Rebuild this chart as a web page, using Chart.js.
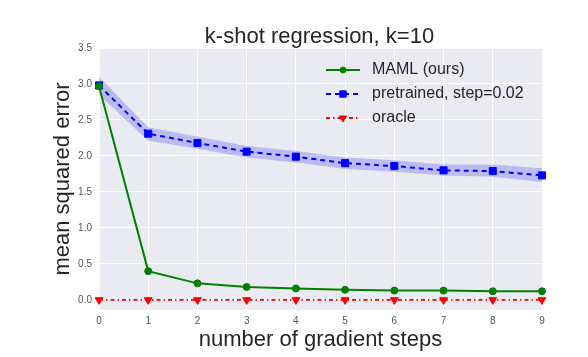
<!DOCTYPE html>
<html><head><meta charset="utf-8">
<script src="https://cdn.jsdelivr.net/npm/chart.js@4/dist/chart.umd.min.js"></script>
<style>html,body{margin:0;padding:0;background:#fff;} canvas{display:block}</style>
</head><body>
<canvas id="c" width="588" height="357"></canvas>
<script>
const steps = ['0','1','2','3','4','5','6','7','8','9'];
const mamlValues = [2.97, 0.40, 0.23, 0.18, 0.16, 0.14, 0.13, 0.13, 0.12, 0.12];
const pretrainedValues = [2.98, 2.31, 2.18, 2.06, 1.99, 1.90, 1.86, 1.80, 1.79, 1.73];
const pretrainedUpper = [3.10, 2.40, 2.27, 2.14, 2.07, 1.98, 1.94, 1.88, 1.88, 1.83];
const pretrainedLower = [2.85, 2.21, 2.10, 1.98, 1.91, 1.82, 1.78, 1.73, 1.71, 1.64];
const oracleValues = [0, 0, 0, 0, 0, 0, 0, 0, 0, 0];
const yTickValues = [0, 0.5, 1.0, 1.5, 2.0, 2.5, 3.0, 3.5];
const chartTitle = 'k-shot regression, k=10';
const xAxisTitle = 'number of gradient steps';
const yAxisTitle = 'mean squared error';
const legendLabels = ['MAML (ours)', 'pretrained, step=0.02', 'oracle'];

const FONT = '"Liberation Sans", Arial, sans-serif';
const TEXT = '#262626';

const styles = {
  maml: {color: '#008000', dash: [], point: 'circle', r: 3.5, lr: 3, rot: 0},
  pre: {color: '#0000FF', dash: [5, 4], point: 'rect', r: 5, lr: 4.5, rot: 0},
  oracle: {color: '#FF0000', dash: [4, 3, 1.5, 3], point: 'triangle', r: 4.5, lr: 4, rot: 180}
};

const bgPlugin = {
  id: 'bg',
  beforeDraw(chart) {
    const {ctx, chartArea: a} = chart;
    ctx.save();
    ctx.fillStyle = '#EAEAF2';
    ctx.fillRect(a.left, a.top, a.right - a.left, a.bottom - a.top);
    ctx.restore();
  }
};

const decoPlugin = {
  id: 'deco',
  afterDraw(chart) {
    const {ctx, chartArea: a} = chart;
    ctx.save();
    ctx.fillStyle = TEXT;
    ctx.font = '22px ' + FONT;
    ctx.textAlign = 'center';
    ctx.textBaseline = 'alphabetic';
    ctx.fillText(chartTitle, (a.left + a.right) / 2 - 1, 43);
    const list = [styles.maml, styles.pre, styles.oracle];
    const x0 = a.right - 216, x1 = a.right - 182, tx = a.right - 170;
    list.forEach((s, i) => {
      const y = a.top + 22 + i * 24;
      ctx.strokeStyle = s.color;
      ctx.lineWidth = i === 2 ? 1.8 : 2;
      ctx.setLineDash(s.dash);
      ctx.beginPath();
      ctx.moveTo(x0, y); ctx.lineTo(x1, y);
      ctx.stroke();
      ctx.setLineDash([]);
      ctx.fillStyle = s.color;
      ctx.strokeStyle = s.color;
      ctx.lineWidth = 1;
      Chart.helpers.drawPoint(ctx, {pointStyle: s.point, radius: s.lr, rotation: s.rot, borderWidth: 1}, (x0 + x1) / 2, y);
      ctx.fillStyle = TEXT;
      ctx.font = '16px ' + FONT;
      ctx.textAlign = 'left';
      ctx.textBaseline = 'middle';
      ctx.fillText(legendLabels[i], tx, y);
    });
    ctx.restore();
  }
};

function lineDs(label, data, s, order, width) {
  return {
    label, data, order,
    borderColor: s.color, backgroundColor: s.color,
    borderWidth: width, borderDash: s.dash,
    pointStyle: s.point, pointRadius: s.r, pointRotation: s.rot,
    pointBorderWidth: 1, pointBorderColor: s.color, pointBackgroundColor: s.color,
    fill: false, tension: 0
  };
}

new Chart(document.getElementById('c'), {
  type: 'line',
  data: {
    labels: steps,
    datasets: [
      {label: 'band upper', data: pretrainedUpper, fill: '+1', backgroundColor: 'rgba(0,0,255,0.2)', borderWidth: 0, pointRadius: 0, order: 10},
      {label: 'band lower', data: pretrainedLower, fill: false, borderWidth: 0, pointRadius: 0, order: 11},
      lineDs(legendLabels[0], mamlValues, styles.maml, 1, 2),
      lineDs(legendLabels[1], pretrainedValues, styles.pre, 2, 2),
      lineDs(legendLabels[2], oracleValues, styles.oracle, 3, 1.8)
    ]
  },
  options: {
    responsive: false,
    animation: false,
    devicePixelRatio: 1,
    layout: {padding: {top: 48, right: 46, left: 0, bottom: 0}},
    plugins: {legend: {display: false}, tooltip: {enabled: false}, title: {display: false}},
    scales: {
      x: {
        type: 'category',
        offset: false,
        grid: {color: '#FFFFFF', lineWidth: 1, drawTicks: false},
        border: {display: false},
        ticks: {color: '#555', font: {family: FONT, size: 10}, padding: 5, maxRotation: 0, autoSkip: false},
        title: {display: true, text: xAxisTitle, color: TEXT, font: {family: FONT, size: 22}, padding: {top: 0, bottom: 4}},
        afterFit(s) { s.height = 47; }
      },
      y: {
        min: -0.14, max: 3.5,
        grid: {color: '#FFFFFF', lineWidth: 1, drawTicks: false},
        border: {display: false},
        afterBuildTicks(s) { s.ticks = yTickValues.map(v => ({value: v})); },
        ticks: {color: '#555', font: {family: FONT, size: 10}, padding: 7, callback: v => Number(v).toFixed(1)},
        title: {display: true, text: yAxisTitle, color: TEXT, font: {family: FONT, size: 22}, padding: {top: 50, bottom: 0}},
        afterFit(s) { s.width = 99; }
      }
    }
  },
  plugins: [bgPlugin, decoPlugin]
});
</script>
</body></html>
